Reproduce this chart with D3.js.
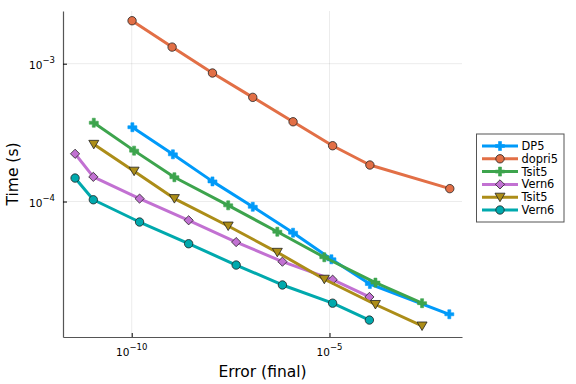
<!DOCTYPE html>
<html>
<head>
<meta charset="UTF-8">
<title>Work-precision</title>
<script src="https://cdn.jsdelivr.net/npm/d3@7"></script>
<style>
  body { margin: 0; background: #fff; }
  svg { font-family: "DejaVu Sans", sans-serif; }
</style>
</head>
<body>
<svg width="576" height="384"></svg>
<script>
// error (x) and time (y) for each solver
var dp5Err    = [1.04e-10, 1.10e-9, 1.10e-8, 1.15e-7, 1.20e-6, 1.12e-5, 1.05e-4, 1.07e-2];
var dp5Time   = [3.46e-4, 2.20e-4, 1.40e-4, 9.16e-5, 5.94e-5, 3.81e-5, 2.52e-5, 1.52e-5];
var dopriErr  = [1.02e-10, 1.05e-9, 1.10e-8, 1.15e-7, 1.20e-6, 1.20e-5, 1.05e-4, 1.10e-2];
var dopriTime = [2.05e-3, 1.32e-3, 8.56e-4, 5.70e-4, 3.79e-4, 2.54e-4, 1.84e-4, 1.24e-4];
var tsitErr   = [1.10e-11, 1.15e-10, 1.20e-9, 2.75e-8, 4.80e-7, 7.40e-6, 1.45e-4, 2.19e-3];
var tsitTime  = [3.73e-4, 2.34e-4, 1.50e-4, 9.38e-5, 6.04e-5, 3.94e-5, 2.58e-5, 1.83e-5];
var vernErr   = [3.70e-12, 1.07e-11, 1.58e-10, 2.75e-9, 4.37e-8, 6.46e-7, 1.20e-5, 1.02e-4];
var vernTime  = [2.22e-4, 1.51e-4, 1.05e-4, 7.31e-5, 5.08e-5, 3.66e-5, 2.71e-5, 2.03e-5];
var tsit2Time = [2.60e-4, 1.66e-4, 1.05e-4, 6.64e-5, 4.28e-5, 2.73e-5, 1.79e-5, 1.25e-5];
var vern2Time = [1.48e-4, 1.03e-4, 7.10e-5, 4.94e-5, 3.46e-5, 2.48e-5, 1.83e-5, 1.38e-5];

var names   = ["DP5", "dopri5", "Tsit5", "Vern6", "Tsit5", "Vern6"];
var colors  = ["#009af9", "#e26f46", "#3da44d", "#c271d2", "#ac8d18", "#00a9ad"];
var markers = ["cross", "circle", "cross", "diamond", "dtriangle", "circle"];
var xTicks = [1e-10, 1e-5];
var yTicks = [1e-4, 1e-3];

var series = [
  [dp5Err, dp5Time], [dopriErr, dopriTime], [tsitErr, tsitTime],
  [vernErr, vernTime], [tsitErr, tsit2Time], [vernErr, vern2Time]
].map(function(p, i) {
  return { name: names[i], color: colors[i], marker: markers[i],
           pts: p[0].map(function(e, j) { return [e, p[1][j]]; }) };
});

var svg = d3.select("svg");
var plotL = 63, plotR = 462, plotT = 11, plotB = 337;

var x = d3.scaleLog().domain([Math.pow(10, -11.737), Math.pow(10, -1.65)]).range([plotL, plotR]);
var y = d3.scaleLog().domain([Math.pow(10, -4.983), Math.pow(10, -2.6176)]).range([plotB, plotT]);

// grid
svg.append("g").selectAll("line").data(xTicks).enter().append("line")
  .attr("x1", function(d) { return x(d); }).attr("x2", function(d) { return x(d); })
  .attr("y1", plotT).attr("y2", plotB)
  .attr("stroke", "#000").attr("stroke-opacity", 0.1).attr("stroke-width", 0.8);
svg.append("g").selectAll("line").data(yTicks).enter().append("line")
  .attr("y1", function(d) { return y(d); }).attr("y2", function(d) { return y(d); })
  .attr("x1", plotL).attr("x2", plotR)
  .attr("stroke", "#000").attr("stroke-opacity", 0.1).attr("stroke-width", 0.8);

// axes, ticks pointing inwards
var xAxis = svg.append("g").attr("transform", "translate(0," + plotB + ")")
  .call(d3.axisBottom(x).tickValues(xTicks).tickSizeInner(-4).tickSizeOuter(0).tickFormat(""));
var yAxis = svg.append("g").attr("transform", "translate(" + plotL + ",0)")
  .call(d3.axisLeft(y).tickValues(yTicks).tickSizeInner(-4).tickSizeOuter(0).tickFormat(""));
[xAxis, yAxis].forEach(function(a) {
  a.select(".domain").attr("stroke", "#555").attr("stroke-width", 1.2);
  a.selectAll(".tick line").attr("stroke", "#000").attr("stroke-width", 1);
});

function expo(d) { return "\u2212" + Math.round(-Math.log10(d)); }

svg.append("g").selectAll("text").data(xTicks).enter().append("text")
  .attr("x", function(d) { return x(d); }).attr("y", 356)
  .attr("text-anchor", "middle").attr("font-size", 10.5)
  .each(function(d) {
    var t = d3.select(this);
    t.append("tspan").text("10");
    t.append("tspan").attr("dy", -6).attr("font-size", 8.5).text(expo(d));
  });

svg.append("g").selectAll("text").data(yTicks).enter().append("text")
  .attr("x", 55).attr("y", function(d) { return y(d) + 5.5; })
  .attr("text-anchor", "end").attr("font-size", 10.5)
  .each(function(d) {
    var t = d3.select(this);
    t.append("tspan").text("10");
    t.append("tspan").attr("dy", -6).attr("font-size", 8.5).text(expo(d));
  });

svg.append("text").attr("x", (plotL + plotR) / 2).attr("y", 377)
  .attr("text-anchor", "middle").attr("font-size", 15.5).text("Error (final)");
svg.append("text").attr("transform", "translate(18," + (plotT + plotB) / 2 + ") rotate(-90)")
  .attr("text-anchor", "middle").attr("font-size", 15.5).text("Time (s)");

// markers
function drawMarker(g, type, color, cx, cy) {
  if (type === "circle") {
    g.append("circle").attr("cx", cx).attr("cy", cy).attr("r", 4.2)
      .attr("fill", color).attr("stroke", "#222").attr("stroke-width", 0.8);
  } else if (type === "diamond") {
    var r = 4.6;
    g.append("path").attr("d", "M" + cx + "," + (cy - r) + "L" + (cx + r) + "," + cy +
      "L" + cx + "," + (cy + r) + "L" + (cx - r) + "," + cy + "Z")
      .attr("fill", color).attr("stroke", "#222").attr("stroke-width", 0.8);
  } else if (type === "dtriangle") {
    var s = 5;
    g.append("path").attr("d", "M" + (cx - s) + "," + (cy - s * 0.8) + "L" + (cx + s) + "," + (cy - s * 0.8) +
      "L" + cx + "," + (cy + s * 0.9) + "Z")
      .attr("fill", color).attr("stroke", "#222").attr("stroke-width", 0.8);
  } else {
    var a = 4.5, w = 1.5;
    g.append("path").attr("d", "M" + (cx - w) + "," + (cy - a) + "h" + 2 * w + "v" + (a - w) + "h" + (a - w) +
      "v" + 2 * w + "h" + (w - a) + "v" + (a - w) + "h" + (-2 * w) + "v" + (w - a) + "h" + (w - a) +
      "v" + (-2 * w) + "h" + (a - w) + "Z")
      .attr("fill", color).attr("stroke", color).attr("stroke-width", 0.6);
  }
}

var line = d3.line().x(function(d) { return x(d[0]); }).y(function(d) { return y(d[1]); });

series.forEach(function(s) {
  var g = svg.append("g");
  g.append("path").datum(s.pts).attr("d", line)
    .attr("fill", "none").attr("stroke", s.color).attr("stroke-width", 3)
    .attr("stroke-linejoin", "round");
  s.pts.forEach(function(p) { drawMarker(g, s.marker, s.color, x(p[0]), y(p[1])); });
});

// legend
var leg = svg.append("g");
leg.append("rect").attr("x", 476.5).attr("y", 134).attr("width", 87.5).attr("height", 88)
  .attr("fill", "#fff").attr("stroke", "#555").attr("stroke-width", 1);
series.forEach(function(s, i) {
  var ly = 146 + i * 12.8;
  leg.append("line").attr("x1", 482).attr("x2", 518).attr("y1", ly).attr("y2", ly)
    .attr("stroke", s.color).attr("stroke-width", 3);
  drawMarker(leg, s.marker, s.color, 500, ly);
  leg.append("text").attr("x", 521.5).attr("y", ly + 4).attr("font-size", 11.4).text(s.name);
});
</script>
</body>
</html>
